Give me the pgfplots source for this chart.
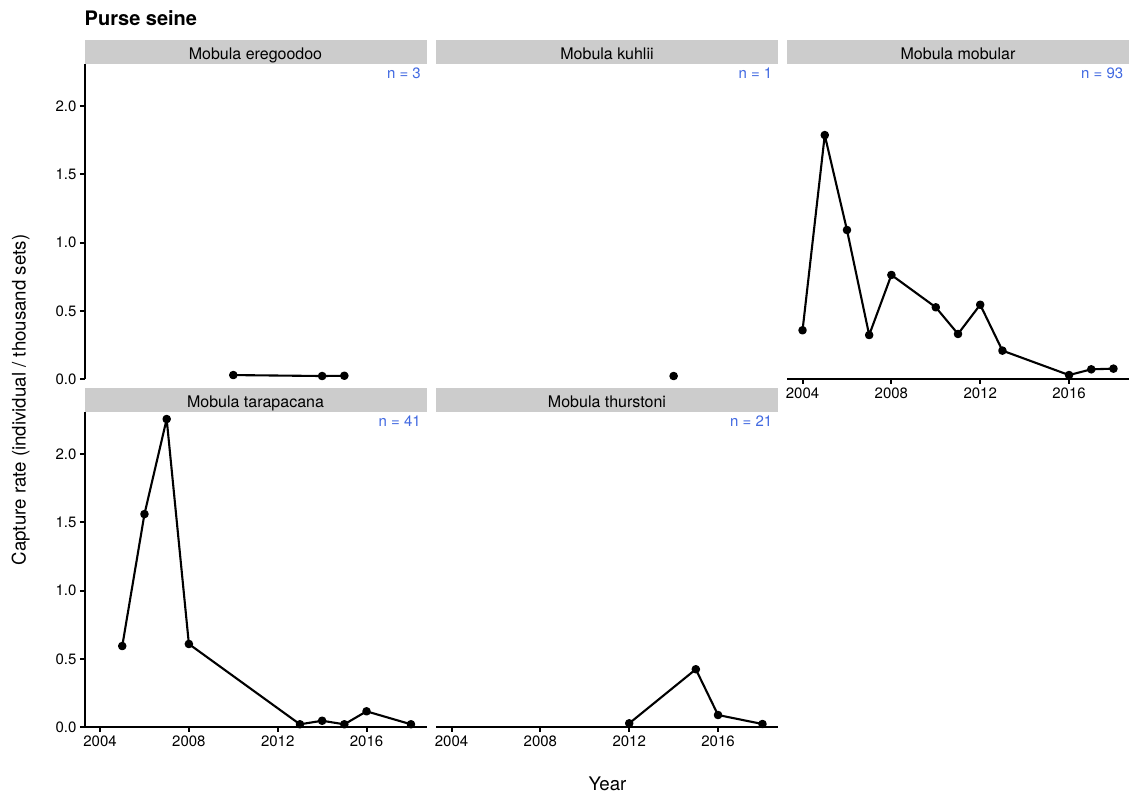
\documentclass[border=0pt]{standalone}
\usepackage{fontspec}
\setmainfont{TeX Gyre Heros}
\usepackage{pgfplots}
\pgfplotsset{compat=1.18}
\definecolor{stripgray}{HTML}{CCCCCC}
\definecolor{nblue}{HTML}{4169E1}
\newcommand{\tickfont}{\fontsize{15}{18}\selectfont}
\pgfplotsset{
  panel/.style={
    scale only axis, width=342pt, height=315.5pt,
    anchor=south west,
    xmin=2003.3, xmax=2018.7, ymin=0, ymax=2.31,
    clip=false,
    xtick={2004,2008,2012,2016}, xticklabels={2004,2008,2012,2016},
    ytick={0,0.5,1,1.5,2}, yticklabels={0.0,0.5,1.0,1.5,2.0},
    tick align=outside, major tick length=4.6pt,
    tick style={black, line width=2pt},
    axis line style={black, line width=2pt},
    ticklabel style={font=\tickfont, text=black},
  },
  series/.style={black, line width=2.1pt, line join=round, mark=*, mark size=3.2pt, mark options={solid, fill=black}},
}
\begin{document}
\begin{tikzpicture}
\useasboundingbox (0,0) rectangle (1131pt,796pt);
% Panel 1: Mobula eregoodoo
\begin{axis}[panel, at={(84.5pt,416.7pt)}, axis y line*=left, axis x line=none]
\addplot[series] coordinates {(2010,0.031) (2014,0.024) (2015,0.026)};
\end{axis}
% Panel 2: Mobula kuhlii
\begin{axis}[panel, at={(436pt,416.7pt)}, axis lines=none]
\addplot[series, only marks] coordinates {(2014,0.024)};
\end{axis}
% Panel 3: Mobula mobular
\begin{axis}[panel, at={(787pt,416.7pt)}, axis x line*=bottom, axis y line=none]
\addplot[series] coordinates {(2004,0.359) (2005,1.788) (2006,1.093) (2007,0.324) (2008,0.764) (2010,0.527) (2011,0.332) (2012,0.546) (2013,0.210) (2016,0.031) (2017,0.073) (2018,0.078)};
\end{axis}
% Panel 4: Mobula tarapacana
\begin{axis}[panel, at={(84.5pt,68.7pt)}, axis x line*=bottom, axis y line*=left]
\addplot[series] coordinates {(2005,0.595) (2006,1.561) (2007,2.257) (2008,0.610) (2013,0.022) (2014,0.048) (2015,0.022) (2016,0.117) (2018,0.022)};
\end{axis}
% Panel 5: Mobula thurstoni
\begin{axis}[panel, at={(436pt,68.7pt)}, axis x line*=bottom, axis y line=none]
\addplot[series] coordinates {(2012,0.029) (2015,0.425) (2016,0.090) (2018,0.024)};
\end{axis}
% strips
\foreach \x/\y/\lab/\n in {84.5/732.2/Mobula eregoodoo/3, 436/732.2/Mobula kuhlii/1, 787/732.2/Mobula mobular/93, 84.5/384.2/Mobula tarapacana/41, 436/384.2/Mobula thurstoni/21}{
  \fill[stripgray] (\x pt,\y pt) rectangle ({\x pt+342pt},{\y pt+23.5pt});
  \node[anchor=base, inner sep=0pt, font=\fontsize{16}{19}\selectfont] at ({\x pt+171pt},{\y pt+4.7pt}) {\lab};
  \node[anchor=base east, inner sep=0pt, text=nblue, font=\fontsize{15}{18}\selectfont] at ({\x pt+336.5pt},{\y pt-14.8pt}) {n = \n};
}
% titles
\node[anchor=base west, inner sep=0pt, font=\fontsize{20}{24}\selectfont\bfseries] at (84.5pt,770pt) {Purse seine};
\node[anchor=base, inner sep=0pt, rotate=90, font=\fontsize{18.7}{22}\selectfont] at (25.5pt,396pt) {Capture rate (individual / thousand sets)};
\node[anchor=base, inner sep=0pt, font=\fontsize{18.7}{22}\selectfont] at (607.5pt,6pt) {Year};
\end{tikzpicture}
\end{document}
